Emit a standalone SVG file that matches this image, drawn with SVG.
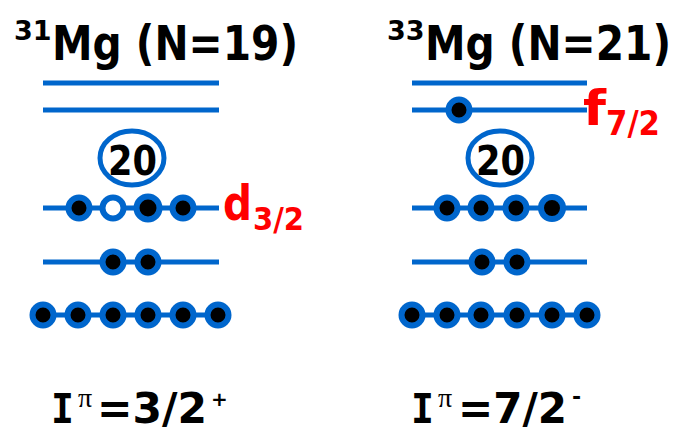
<svg xmlns="http://www.w3.org/2000/svg" width="693" height="432" viewBox="0 0 693 432">
<style>
.lv{stroke:#0066CC;stroke-width:5;fill:none}
.p{fill:#000;stroke:#0066CC;stroke-width:6}
.h{fill:#fff;stroke:#0066CC;stroke-width:6}
.magic{fill:#fff;stroke:#0066CC;stroke-width:5}
.t{font-family:"DejaVu Sans",sans-serif;font-weight:bold;fill:#000}
.r{font-family:"DejaVu Sans",sans-serif;font-weight:bold;fill:#FF0000}
.i{font-family:"DejaVu Sans Mono",monospace;font-weight:bold;fill:#000}
.pi{font-family:"Liberation Serif",serif;fill:#000}
</style>
<rect width="693" height="432" fill="#fff"/>
<g id="left">
  <g id="title-31mg">
    <text class="t" x="14" y="40" font-size="27">31</text>
    <text class="t" transform="translate(52,60) scale(1,1.17)" x="0" y="0" font-size="41" textLength="246" lengthAdjust="spacingAndGlyphs">Mg (N=19)</text>
  </g>
  <g id="l-level-top1"><line class="lv" x1="43" y1="83" x2="219" y2="83"/></g>
  <g id="l-level-top2"><line class="lv" x1="43" y1="110" x2="219" y2="110"/></g>
  <g id="l-magic20">
    <ellipse class="magic" cx="132" cy="158" rx="32" ry="27"/>
    <text class="t" x="108" y="175" font-size="40" textLength="49" lengthAdjust="spacingAndGlyphs">20</text>
  </g>
  <g id="l-d32">
    <line class="lv" x1="43" y1="208" x2="219" y2="208"/>
    <circle class="p" cx="79" cy="208" r="10.5"/>
    <circle class="h" cx="113" cy="208" r="10.5"/>
    <circle class="p" cx="148" cy="208" r="11.5"/>
    <circle class="p" cx="183" cy="208" r="10.5"/>
    <text class="r" x="223" y="220" font-size="48" textLength="29" lengthAdjust="spacingAndGlyphs">d</text>
    <text class="r" x="253" y="230" font-size="32" textLength="51" lengthAdjust="spacingAndGlyphs">3/2</text>
  </g>
  <g id="l-s12">
    <line class="lv" x1="43" y1="262" x2="219" y2="262"/>
    <circle class="p" cx="113" cy="262" r="10.5"/>
    <circle class="p" cx="148" cy="262" r="10.5"/>
  </g>
  <g id="l-d52">
    <line class="lv" x1="43" y1="315" x2="218" y2="315"/>
    <circle class="p" cx="43" cy="315" r="10.5"/>
    <circle class="p" cx="78" cy="315" r="10.5"/>
    <circle class="p" cx="113" cy="315" r="10.5"/>
    <circle class="p" cx="148" cy="315" r="10.5"/>
    <circle class="p" cx="183" cy="315" r="10.5"/>
    <circle class="p" cx="218" cy="315" r="10.5"/>
  </g>
  <g id="l-spin">
    <text class="i" x="51" y="423" font-size="40" textLength="23" lengthAdjust="spacingAndGlyphs">I</text>
    <text class="pi" x="78" y="407" font-size="28">π</text>
    <text class="t" x="97" y="423" font-size="42" textLength="110" lengthAdjust="spacingAndGlyphs">=3/2</text>
    <text class="t" x="211" y="406" font-size="20">+</text>
  </g>
</g>
<g id="right">
  <g id="title-33mg">
    <text class="t" x="387" y="40" font-size="27">33</text>
    <text class="t" transform="translate(425,60) scale(1,1.17)" x="0" y="0" font-size="41" textLength="246" lengthAdjust="spacingAndGlyphs">Mg (N=21)</text>
  </g>
  <g id="r-level-top1"><line class="lv" x1="412" y1="83" x2="587" y2="83"/></g>
  <g id="r-f72">
    <line class="lv" x1="412" y1="110" x2="587" y2="110"/>
    <circle class="p" cx="459" cy="110" r="10.5"/>
    <text class="r" x="583" y="125" font-size="48" textLength="23" lengthAdjust="spacingAndGlyphs">f</text>
    <text class="r" x="606" y="135" font-size="33" textLength="54" lengthAdjust="spacingAndGlyphs">7/2</text>
  </g>
  <g id="r-magic20">
    <ellipse class="magic" cx="500" cy="158" rx="32" ry="27"/>
    <text class="t" x="476" y="175" font-size="40" textLength="49" lengthAdjust="spacingAndGlyphs">20</text>
  </g>
  <g id="r-d32">
    <line class="lv" x1="412" y1="208" x2="587" y2="208"/>
    <circle class="p" cx="447" cy="208" r="10.5"/>
    <circle class="p" cx="481" cy="208" r="10.5"/>
    <circle class="p" cx="516" cy="208" r="10.5"/>
    <circle class="p" cx="552" cy="208" r="11"/>
  </g>
  <g id="r-s12">
    <line class="lv" x1="412" y1="262" x2="587" y2="262"/>
    <circle class="p" cx="482" cy="262" r="10.5"/>
    <circle class="p" cx="517" cy="262" r="10.5"/>
  </g>
  <g id="r-d52">
    <line class="lv" x1="412" y1="315" x2="587" y2="315"/>
    <circle class="p" cx="412" cy="315" r="10.5"/>
    <circle class="p" cx="447" cy="315" r="10.5"/>
    <circle class="p" cx="481" cy="315" r="10.5"/>
    <circle class="p" cx="517" cy="315" r="10.5"/>
    <circle class="p" cx="552" cy="315" r="10.5"/>
    <circle class="p" cx="587" cy="315" r="10.5"/>
  </g>
  <g id="r-spin">
    <text class="i" x="411" y="423" font-size="40" textLength="23" lengthAdjust="spacingAndGlyphs">I</text>
    <text class="pi" x="438" y="407" font-size="28">π</text>
    <text class="t" x="458" y="423" font-size="42" textLength="109" lengthAdjust="spacingAndGlyphs">=7/2</text>
    <text class="t" x="572" y="404" font-size="22">-</text>
  </g>
</g>
<g id="connectors"/>
</svg>
